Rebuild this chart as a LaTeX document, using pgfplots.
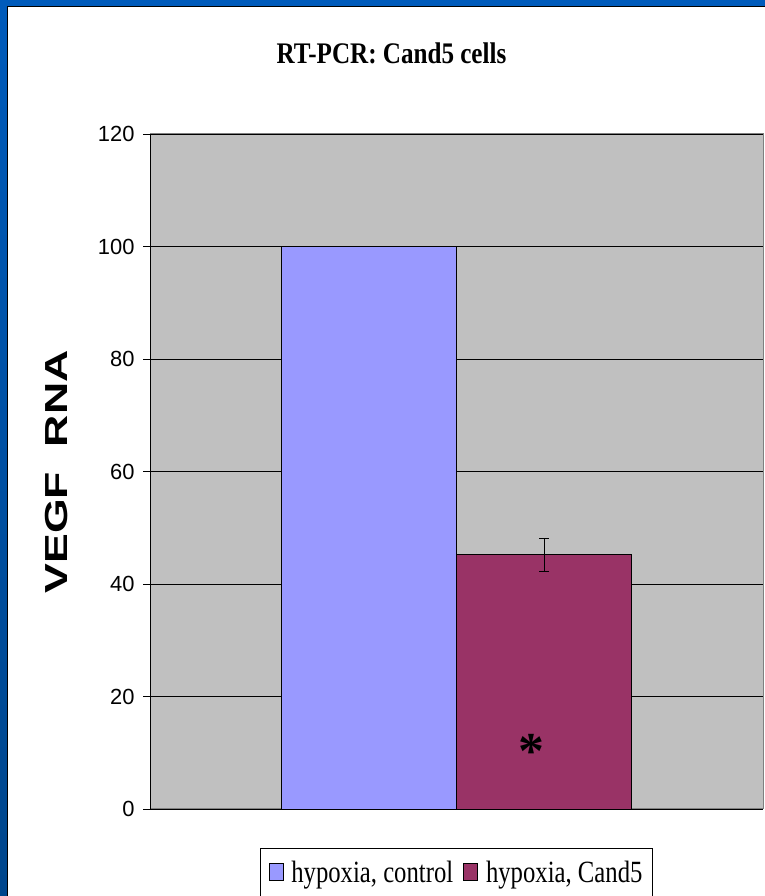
\documentclass[border=0pt]{standalone}
\usepackage{pgfplots}
\pgfplotsset{compat=1.18}
\usepackage{fontspec}
\setmainfont{Liberation Serif}
\newfontfamily\arial{Liberation Sans}
\definecolor{frameblue}{HTML}{005BBB}
\definecolor{framedark}{HTML}{00468C}
\definecolor{barA}{HTML}{9999FF}
\definecolor{barB}{HTML}{993366}
\definecolor{plotbg}{HTML}{C0C0C0}
\begin{document}
\begin{tikzpicture}[x=1bp,y=1bp]
\path[use as bounding box] (0,0) rectangle (765,896);
\fill[white] (0,0) rectangle (765,896);
\fill[top color=frameblue, bottom color=framedark] (0,0) rectangle (7,896);
\fill[frameblue] (0,890) rectangle (765,896);
\draw[black, line width=1bp] (7.5,0) -- (7.5,889.5) -- (765,889.5);
\node at (391.5,843) {\fontsize{30}{30}\selectfont\bfseries\scalebox{0.84}[1]{RT-PCR: Cand5 cells}};
\node[rotate=90] at (57,424) {\fontsize{32}{32}\selectfont\arial\bfseries\scalebox{1.4}[1]{VEGF\ \ RNA}};
\begin{axis}[
 at={(150bp,87bp)}, anchor=south west,
 scale only axis, width=613bp, height=675bp,
 xmin=-1.2514, xmax=2.2514, ymin=0, ymax=120,
 ytick={0,20,...,120}, xtick=\empty,
 ytick pos=left, tick align=outside, major tick length=7bp,
 ymajorgrids, grid style={black, line width=0.8bp},
 axis background/.style={fill=plotbg},
 axis line style={draw=gray, line width=1bp},
 tick style={black, line width=0.8bp},
 yticklabel style={font=\fontsize{22}{22}\selectfont\arial, xshift=-5bp},
 /pgf/number format/assume math mode=true,
 ybar, bar shift=0pt, bar width=1,
 legend style={at={(0.5,-0.0578)}, anchor=north, legend columns=2, draw=black, line width=0.8bp,
   font=\fontsize{31}{31}\selectfont, inner xsep=8bp, inner ysep=11bp},
]
\addplot[fill=barA, draw=black, line width=0.8bp,
  legend image code/.code={\draw[fill=barA, draw=black, line width=0.8bp] (0bp,-8bp) rectangle (14bp,9bp);}]
  coordinates {(0,100)};
\addlegendentry{\hspace{6bp}\scalebox{0.8}[1]{hypoxia, control}\rule{8bp}{0pt}}
\addplot[fill=barB, draw=black, line width=0.8bp,
  error bars/.cd, y dir=both, y explicit,
  error bar style={black, line width=1bp},
  error mark options={rotate=90, mark size=5bp, black, line width=1bp},
  /pgfplots/legend image code/.code={\draw[fill=barB, draw=black, line width=0.8bp] (0bp,-8bp) rectangle (14bp,9bp);}]
  coordinates {(1,45.2) +- (0,2.9)};
\addlegendentry{\hspace{6bp}\scalebox{0.8}[1]{hypoxia, Cand5}}
\draw[black, line width=1bp] (rel axis cs:0,0) -- (rel axis cs:0,1);
\node[anchor=north] at (axis cs:0.93,13.9) {\fontsize{52}{52}\selectfont\bfseries *};
\end{axis}
\end{tikzpicture}
\end{document}
